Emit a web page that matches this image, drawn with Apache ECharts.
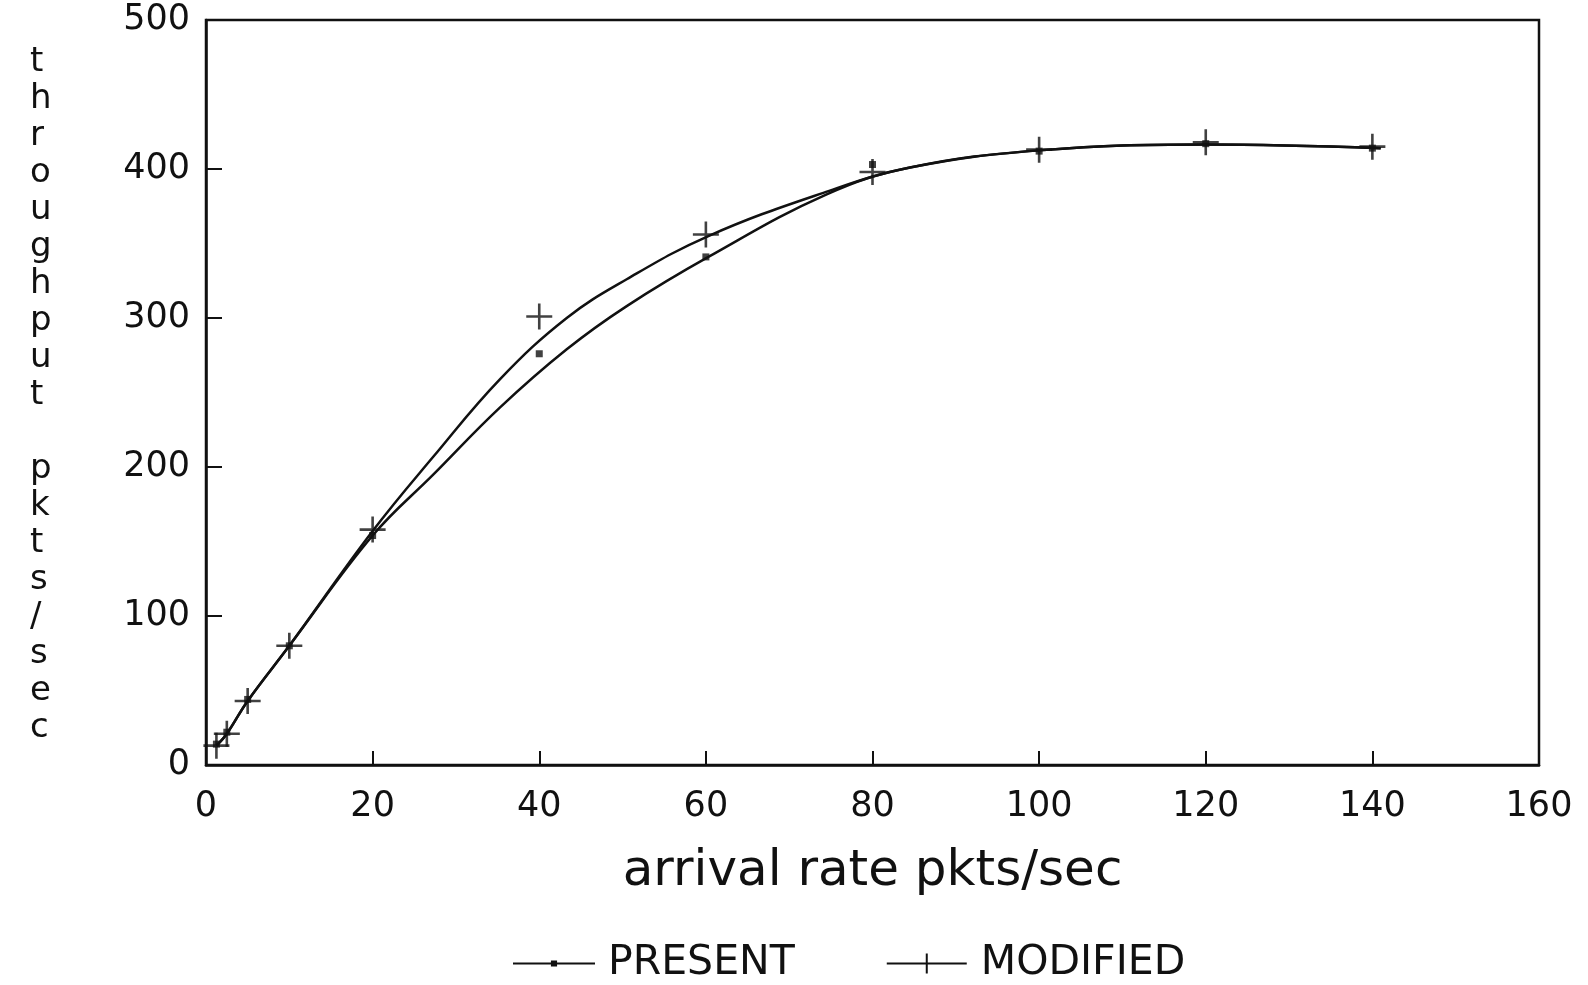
<!DOCTYPE html>
<html>
<head>
<meta charset="utf-8">
<script src="https://cdn.jsdelivr.net/npm/echarts@6/dist/echarts.min.js"></script>
<style>
  html, body { margin: 0; padding: 0; background: #fff; }
  #chart { width: 1588px; height: 985px; }
</style>
</head>
<body>
<div id="chart"></div>
<script>
// measured points
const rateX = [1.25, 2.5, 5, 10, 20, 40, 60, 80, 100, 120, 140]
const presentY = [14, 22, 44, 80, 154, 276, 341, 403, 412, 417, 414]
const modifiedY = [13, 21, 43, 80, 158, 301, 356, 398, 413, 418, 415]

// fitted curves
const presentCurveX = [1.25, 2.5, 5, 10, 20, 27.3, 35.3, 43.3, 50.5, 60.3, 74.5, 84.5, 100, 120, 141]
const presentCurveY = [13, 21, 43, 80, 154, 195, 240, 279, 308, 341, 383, 401, 412.5, 416.5, 414]
const modifiedCurveX = [1.25, 2.5, 5, 10, 20, 27.3, 35.3, 43.3, 50.5, 60.3, 74.1, 84.5, 100, 120, 141]
const modifiedCurveY = [13, 21, 43, 80, 157, 207, 259, 300, 326, 355, 384, 401, 412.5, 416.5, 414]

const yTitle = ['t', 'h', 'r', 'o', 'u', 'g', 'h', 'p', 'u', 't', ' ', 'p', 'k', 't', 's', '/', 's', 'e', 'c']

const font = 'DejaVu Sans'
const ink = '#111'
const plusPath = 'path://M45,0H55V45H100V55H55V100H45V55H0V45H45Z'

function zip (xs, ys) {
  return xs.map((x, i) => [x, ys[i]])
}

const chart = echarts.init(document.getElementById('chart'))
chart.setOption({
  animation: false,
  backgroundColor: '#fff',
  grid: {
    left: 206,
    right: 49,
    top: 20,
    bottom: 220,
    show: true,
    borderColor: ink,
    borderWidth: 2.5
  },
  graphic: [{
    type: 'text',
    left: 30,
    top: 44,
    style: {
      text: yTitle.join('\n'),
      font: '34px "DejaVu Sans"',
      fill: ink,
      lineHeight: 37,
      align: 'center'
    }
  }],
  legend: {
    left: 508,
    top: 938,
    itemWidth: 82,
    itemHeight: 20,
    itemGap: 92,
    textStyle: { fontFamily: font, fontSize: 41, color: ink, padding: [0, 0, 0, 8] },
    data: [
      { name: 'PRESENT', icon: 'path://M0,9H80V11H0Z M37,7H43V13H37Z' },
      { name: 'MODIFIED', icon: 'path://M0,9H80V11H0Z M39,0H41V20H39Z' }
    ]
  },
  xAxis: {
    type: 'value',
    min: 0,
    max: 160,
    interval: 20,
    name: 'arrival rate pkts/sec',
    nameLocation: 'middle',
    nameGap: 82,
    nameTextStyle: { fontFamily: font, fontSize: 50, color: ink },
    axisLine: { lineStyle: { color: ink, width: 2.5 } },
    axisTick: { inside: true, length: 14, lineStyle: { color: ink, width: 2 } },
    axisLabel: { fontFamily: font, fontSize: 35, color: ink, margin: 24 },
    splitLine: { show: false }
  },
  yAxis: {
    type: 'value',
    min: 0,
    max: 500,
    interval: 100,
    axisLine: { show: true, lineStyle: { color: ink, width: 2.5 } },
    axisTick: { show: true, inside: true, length: 16, lineStyle: { color: ink, width: 2 } },
    axisLabel: { fontFamily: font, fontSize: 35, color: ink, margin: 16 },
    splitLine: { show: false }
  },
  series: [
    {
      name: 'PRESENT',
      type: 'line',
      smooth: 0.4,
      symbol: 'none',
      lineStyle: { color: ink, width: 2.5 },
      itemStyle: { color: ink },
      data: zip(presentCurveX, presentCurveY)
    },
    {
      name: 'MODIFIED',
      type: 'line',
      smooth: 0.4,
      symbol: 'none',
      lineStyle: { color: ink, width: 2.5 },
      itemStyle: { color: ink },
      data: zip(modifiedCurveX, modifiedCurveY)
    },
    {
      name: 'PRESENT points',
      type: 'scatter',
      symbol: 'rect',
      symbolSize: 7,
      itemStyle: { color: ink },
      data: zip(rateX, presentY)
    },
    {
      name: 'MODIFIED points',
      type: 'scatter',
      symbol: plusPath,
      symbolSize: 26,
      itemStyle: { color: ink },
      data: zip(rateX, modifiedY)
    }
  ]
})
</script>
</body>
</html>
